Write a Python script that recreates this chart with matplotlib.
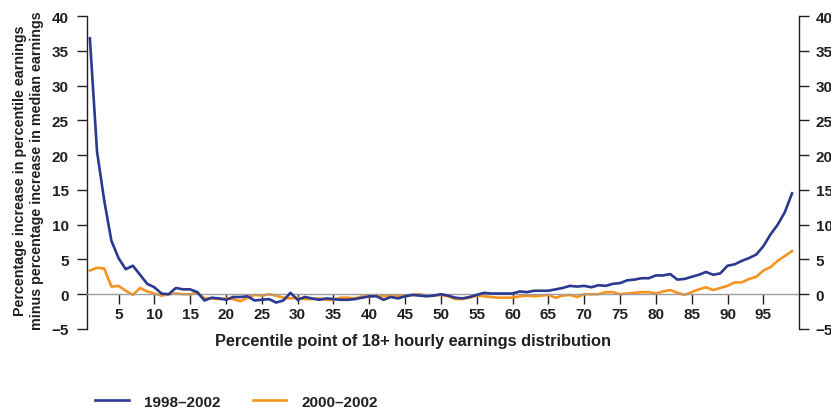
import numpy as np
import matplotlib
matplotlib.use('Agg')
import matplotlib.pyplot as plt

plt.rcParams['font.family'] = ['Liberation Sans', 'DejaVu Sans']
plt.rcParams['font.weight'] = 'bold'

# percentile points 1..99
PCT = list(range(1, 100))

# 1998-2002: percentile increase minus median increase
S_9802 = [
    36.8, 20.5, 13.5, 7.7, 5.2, 3.6, 4.1, 2.8, 1.5, 1.0,
    0.1, 0.0, 0.9, 0.7, 0.7, 0.3, -0.9, -0.5, -0.6, -0.8,
    -0.4, -0.4, -0.3, -0.9, -0.8, -0.7, -1.2, -0.9, 0.2, -0.8,
    -0.4, -0.6, -0.8, -0.6, -0.7, -0.8, -0.8, -0.7, -0.5, -0.3,
    -0.3, -0.8, -0.4, -0.6, -0.3, -0.1, -0.2, -0.3, -0.2, 0.0,
    -0.2, -0.5, -0.6, -0.4, -0.1, 0.2, 0.1, 0.1, 0.1, 0.1,
    0.4, 0.3, 0.5, 0.5, 0.5, 0.7, 0.9, 1.2, 1.1, 1.2,
    1.0, 1.3, 1.2, 1.5, 1.6, 2.0, 2.1, 2.3, 2.3, 2.7,
    2.7, 2.9, 2.1, 2.2, 2.5, 2.8, 3.2, 2.8, 3.0, 4.1,
    4.3, 4.8, 5.2, 5.7, 6.9, 8.6, 10.0, 11.8, 14.5,
]

# 2000-2002
S_0002 = [
    3.4, 3.8, 3.7, 1.1, 1.2, 0.5, -0.1, 0.9, 0.4, 0.1,
    -0.2, 0.0, 0.1, 0.0, 0.0, 0.2, -0.6, -0.6, -0.7, -0.6,
    -0.7, -1.0, -0.5, -0.1, -0.2, 0.0, -0.2, -0.5, -0.6, -0.5,
    -0.7, -0.7, -0.6, -0.8, -0.8, -0.5, -0.5, -0.6, -0.3, -0.4,
    -0.1, -0.3, -0.2, -0.2, -0.3, -0.1, 0.0, -0.2, -0.2, -0.1,
    -0.3, -0.7, -0.7, -0.5, -0.2, -0.3, -0.4, -0.5, -0.5, -0.5,
    -0.3, -0.2, -0.3, -0.2, -0.1, -0.5, -0.2, -0.1, -0.4, 0.0,
    0.0, 0.0, 0.3, 0.3, 0.0, 0.1, 0.2, 0.3, 0.3, 0.1,
    0.4, 0.6, 0.2, -0.1, 0.3, 0.7, 1.0, 0.6, 0.9, 1.2,
    1.7, 1.7, 2.2, 2.5, 3.4, 3.9, 4.8, 5.5, 6.2,
]

XTICKS = list(range(5, 100, 5))
YTICKS = list(range(-5, 45, 5))

BLUE = '#2b3990'
ORANGE = '#f7941d'
INK = '#231f20'

fig = plt.figure(figsize=(8.31, 4.14), dpi=100)
ax = fig.add_axes([0.1047, 0.2029, 0.857, 0.756])

ln1, = ax.plot(PCT, S_9802, color=BLUE, lw=1.9, label='1998\u20132002', zorder=3)
ln2, = ax.plot(PCT, S_0002, color=ORANGE, lw=1.9, label='2000\u20132002', zorder=2)

ax.set_xlim(0.6, 100)
ax.set_ylim(-5, 40)
ax.set_xticks(XTICKS)
ax.set_yticks(YTICKS)

ax.spines['top'].set_visible(False)
ax.spines['right'].set_visible(False)
ax.spines['bottom'].set_position(('data', 0))
ax.spines['bottom'].set_color('#9d9d9d')
ax.spines['bottom'].set_linewidth(1.0)
ax.spines['left'].set_color(INK)
ax.spines['left'].set_linewidth(1.0)

ax.tick_params(axis='x', direction='out', length=7.5, width=1.0, color=INK,
               pad=1.5, labelsize=11, labelcolor=INK)
ax.tick_params(axis='y', direction='out', length=7, width=1.0, color=INK,
               pad=6, labelsize=11, labelcolor=INK)
for t in ax.get_xticklabels() + ax.get_yticklabels():
    t.set_fontweight('bold')

# right-hand duplicate axis (labels run off the edge, as in the original)
ax2 = ax.twinx()
ax2.set_ylim(-5, 40)
ax2.set_yticks(YTICKS)
for s in ('top', 'bottom', 'left'):
    ax2.spines[s].set_visible(False)
ax2.spines['right'].set_color(INK)
ax2.spines['right'].set_linewidth(1.0)
ax2.tick_params(axis='y', direction='out', length=7, width=1.0, color=INK,
                pad=5, labelsize=11, labelcolor=INK)
for t in ax2.get_yticklabels():
    t.set_fontweight('bold')

ax.set_ylabel('Percentage increase in percentile earnings\n'
              'minus percentage increase in median earnings',
              fontsize=10.3, fontweight='bold', color=INK, linespacing=1.3)
ax.yaxis.set_label_coords(-0.060, 0.51)

fig.text(0.497, 0.174, 'Percentile point of 18+ hourly earnings distribution',
         ha='center', va='center', fontsize=11.8, fontweight='bold', color=INK)

fig.legend(handles=[ln1, ln2], loc='center left', bbox_to_anchor=(0.098, 0.027),
           ncol=2, frameon=False, handlelength=2.2,
           handletextpad=1.0, columnspacing=2.1, labelcolor=INK,
           prop={'weight': 'bold', 'size': 11})

fig.savefig('out.png', dpi=100)
